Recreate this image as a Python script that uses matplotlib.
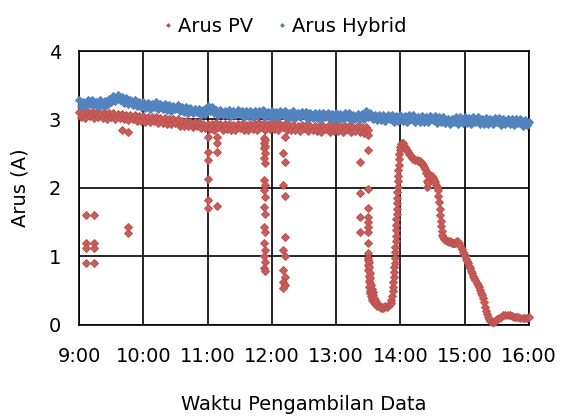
import numpy as np
import matplotlib
matplotlib.use("Agg")
import matplotlib.pyplot as plt
from matplotlib.lines import Line2D

plt.rcParams['font.family'] = ['DejaVu Sans']

# ---- axis categories -------------------------------------------------------
hour_labels = ["9:00", "10:00", "11:00", "12:00", "13:00", "14:00", "15:00", "16:00"]
hour_minutes = [0, 60, 120, 180, 240, 300, 360, 420]   # minutes after 9:00
y_ticks = [0, 1, 2, 3, 4]

# ---- Arus Hybrid: logged every 2 minutes from 9:00 to 16:00 -----------------
hybrid_minutes = np.arange(0, 421, 2)
hybrid_current = [
    3.29, 3.20, 3.26, 3.19, 3.28, 3.23, 3.29, 3.21, 3.25, 3.19,
    3.28, 3.20, 3.27, 3.21, 3.30, 3.25, 3.35, 3.27, 3.36, 3.29,
    3.33, 3.24, 3.31, 3.22, 3.29, 3.21, 3.28, 3.19, 3.26, 3.18,
    3.26, 3.17, 3.24, 3.16, 3.23, 3.18, 3.25, 3.15, 3.22, 3.16,
    3.22, 3.14, 3.21, 3.13, 3.19, 3.15, 3.21, 3.12, 3.18, 3.11,
    3.18, 3.10, 3.17, 3.09, 3.16, 3.11, 3.15, 3.07, 3.14, 3.08,
    3.19, 3.12, 3.18, 3.10, 3.14, 3.07, 3.14, 3.06, 3.13, 3.07,
    3.14, 3.05, 3.12, 3.06, 3.14, 3.08, 3.13, 3.04, 3.12, 3.05,
    3.13, 3.04, 3.12, 3.05, 3.13, 3.08, 3.14, 3.04, 3.11, 3.05,
    3.13, 3.04, 3.11, 3.03, 3.12, 3.07, 3.12, 3.02, 3.10, 3.03,
    3.12, 3.02, 3.10, 3.03, 3.11, 3.06, 3.11, 3.01, 3.09, 3.02,
    3.10, 3.02, 3.09, 3.01, 3.10, 3.04, 3.10, 3.00, 3.08, 3.01,
    3.09, 3.01, 3.08, 3.00, 3.09, 3.03, 3.09, 2.99, 3.07, 3.00,
    3.08, 3.00, 3.08, 3.01, 3.12, 3.04, 3.10, 3.00, 3.07, 2.99,
    3.07, 2.99, 3.06, 2.98, 3.07, 3.01, 3.07, 2.97, 3.05, 2.98,
    3.06, 2.98, 3.05, 2.97, 3.06, 3.00, 3.06, 2.96, 3.04, 2.97,
    3.05, 2.97, 3.04, 2.96, 3.05, 2.99, 3.05, 2.95, 3.03, 2.96,
    3.03, 2.95, 3.00, 2.93, 3.01, 2.97, 3.03, 2.94, 3.03, 2.95,
    3.03, 2.95, 3.02, 2.94, 3.03, 2.97, 3.03, 2.93, 3.01, 2.94,
    3.02, 2.94, 3.01, 2.93, 3.02, 2.96, 3.02, 2.92, 3.00, 2.93,
    3.01, 2.93, 3.00, 2.92, 3.01, 2.95, 3.01, 2.91, 2.99, 2.92,
    2.97,
]

# ---- Arus PV: regular 2-minute log, 9:00 to 13:30 ---------------------------
pv_minutes = np.arange(0, 271, 2)
pv_current = [
    3.11, 3.03, 3.10, 3.02, 3.11, 3.05, 3.11, 3.02, 3.09, 3.03,
    3.10, 3.02, 3.09, 3.01, 3.10, 3.04, 3.10, 3.01, 3.08, 3.02,
    3.08, 3.00, 3.07, 2.99, 3.07, 3.01, 3.07, 2.98, 3.05, 2.98,
    3.05, 2.97, 3.04, 2.96, 3.04, 2.98, 3.04, 2.95, 3.02, 2.95,
    3.02, 2.94, 3.01, 2.93, 3.00, 2.95, 3.00, 2.91, 2.98, 2.91,
    2.98, 2.90, 2.97, 2.89, 2.96, 2.91, 2.96, 2.87, 2.94, 2.87,
    2.94, 2.86, 2.93, 2.85, 2.95, 2.89, 2.94, 2.85, 2.93, 2.86,
    2.93, 2.85, 2.92, 2.84, 2.94, 2.88, 2.93, 2.84, 2.92, 2.85,
    2.94, 2.86, 2.93, 2.85, 2.95, 2.89, 2.94, 2.85, 2.94, 2.86,
    2.95, 2.86, 2.94, 2.85, 2.94, 2.89, 2.94, 2.85, 2.92, 2.85,
    2.92, 2.84, 2.91, 2.83, 2.92, 2.87, 2.92, 2.83, 2.91, 2.84,
    2.91, 2.83, 2.90, 2.82, 2.91, 2.86, 2.91, 2.82, 2.90, 2.83,
    2.91, 2.83, 2.90, 2.82, 2.91, 2.86, 2.91, 2.82, 2.89, 2.83,
    2.90, 2.82, 2.89, 2.81, 2.89, 2.84,
]

# ---- Arus PV: momentary drops (shading) before 13:30 ------------------------
pv_drop_minutes = [
    6.5, 6.5, 6.5, 6.5, 14, 14, 14, 14,
    40, 45.5, 46, 46,
    120.5, 120.5, 120.5, 120.5, 120.5, 120.5,
    129, 129, 129, 129,
    173, 174, 173, 174, 173, 174, 173, 174, 173, 174, 173, 174,
    173, 174, 173, 174, 173, 174, 173, 174, 173, 174,
    192.5, 190, 192.5, 190, 192.5, 192.5, 190, 192.5, 190, 192.5,
    190, 192.5, 190,
    262.5, 262.5, 262.5, 262.5,
    269.5, 269.5, 269.5, 269.5, 269.5, 269.5, 269.5, 269.5, 269.5,
    269.5, 269.5,
]
pv_drop_current = [
    1.60, 1.19, 1.12, 0.90, 1.60, 1.19, 1.12, 0.90,
    2.85, 2.82, 1.43, 1.34,
    2.74, 2.53, 2.41, 2.13, 1.82, 1.71,
    2.74, 2.66, 2.53, 1.74,
    2.73, 2.70, 2.66, 2.62, 2.58, 2.51, 2.44, 2.36, 2.12, 2.04,
    1.97, 1.87, 1.72, 1.62, 1.43, 1.36, 1.20, 1.09, 1.00, 0.92,
    0.83, 0.79,
    2.74, 2.51, 2.38, 2.04, 1.88, 1.28, 1.09, 1.00, 0.80, 0.70,
    0.63, 0.58, 0.54,
    2.38, 1.93, 1.58, 1.36,
    2.77, 2.55, 1.98, 1.71, 1.58, 1.50, 1.43, 1.36, 1.20,
    1.05, 0.98,
]

# ---- Arus PV: afternoon log (dip, recovery and sunset decline) --------------
pv_late_minutes = [
    269.5, 269.8, 270.0, 270.2, 270.4, 270.6, 270.8, 271.0, 271.2, 271.4,
    271.6, 271.8, 272.0, 272.3, 272.6, 273.0, 273.3, 273.6, 274.0, 274.4,
    274.8, 275.2, 275.6, 276.0, 276.5, 277.0, 277.5, 278.0, 279.0, 280.0,
    281.0, 282.0, 283.0, 284.0, 285.0, 286.0, 287.0, 288.0, 289.0, 290.0,
    291.0, 291.6, 292.2, 292.7,
    293.0, 293.3, 293.6, 293.9, 294.2, 294.5, 294.8, 295.0, 295.2, 295.4,
    295.6, 295.8, 296.0, 296.2, 296.4, 296.6, 296.8, 297.0, 297.2, 297.4,
    297.6, 297.8, 298.0, 298.3, 298.6, 299.0, 299.5, 300.0, 300.6, 301.3,
    302, 303, 304, 305, 306, 307, 308, 309, 310, 311,
    312, 313, 314, 315, 316, 317, 318, 319, 320, 321,
    322, 323, 324, 324.5, 325, 325.5, 326, 327, 328, 329,
    330, 331, 332, 333, 334, 335, 335.5, 336, 336.5, 337,
    337.5, 338, 338.5, 339, 340, 341, 342, 343, 344, 345,
    346, 347, 348, 349, 350, 351, 352, 353, 354, 355,
    356, 357, 358, 359, 360, 361, 362, 363, 364, 365,
    366, 367, 368, 369, 370, 371, 372, 373, 374, 375,
    376, 377, 378, 379, 380, 381, 382, 383, 384, 385,
    386, 387, 388, 389, 390, 392, 394, 396, 398, 400,
    402, 404, 406, 408, 410, 412, 414, 416, 418, 420,
]
pv_late_current = [
    0.95, 0.88, 0.80, 0.72, 0.92, 0.64, 0.84, 0.56, 0.76, 0.50,
    0.68, 0.46, 0.62, 0.42, 0.58, 0.40, 0.53, 0.37, 0.48, 0.35,
    0.44, 0.33, 0.40, 0.31, 0.37, 0.30, 0.34, 0.28, 0.30, 0.27,
    0.26, 0.25, 0.26, 0.25, 0.26, 0.27, 0.26, 0.28, 0.29, 0.30,
    0.32, 0.36, 0.42, 0.50,
    0.56, 0.63, 0.70, 0.77, 0.84, 0.91, 0.98, 1.06, 1.14, 1.22,
    1.30, 1.38, 1.46, 1.54, 1.62, 1.70, 1.78, 1.86, 1.94, 2.02,
    2.10, 2.18, 2.26, 2.34, 2.42, 2.49, 2.55, 2.60, 2.64, 2.66,
    2.65, 2.62, 2.60, 2.57, 2.55, 2.52, 2.50, 2.48, 2.46, 2.44,
    2.43, 2.42, 2.41, 2.41, 2.40, 2.39, 2.39, 2.37, 2.36, 2.34,
    2.31, 2.27, 2.22, 2.10, 2.02, 2.08, 2.18, 2.20, 2.19, 2.17,
    2.15, 2.12, 2.09, 2.05, 2.01, 1.97, 1.88, 1.79, 1.70, 1.61,
    1.52, 1.44, 1.37, 1.32, 1.28, 1.25, 1.24, 1.23, 1.22, 1.21,
    1.22, 1.21, 1.20, 1.20, 1.19, 1.20, 1.21, 1.22, 1.21, 1.19,
    1.15, 1.11, 1.07, 1.03, 1.00, 0.97, 0.93, 0.90, 0.86, 0.83,
    0.79, 0.76, 0.72, 0.69, 0.65, 0.62, 0.58, 0.55, 0.51, 0.47,
    0.44, 0.40, 0.33, 0.26, 0.20, 0.16, 0.12, 0.08, 0.06, 0.05,
    0.04, 0.05, 0.06, 0.07, 0.08, 0.10, 0.12, 0.14, 0.15, 0.15,
    0.14, 0.13, 0.12, 0.11, 0.11, 0.10, 0.10, 0.10, 0.10, 0.11,
]

PV_COLOR = "#C0504D"
HYBRID_COLOR = "#4F81BD"

pv_x = np.concatenate([pv_minutes, pv_drop_minutes, pv_late_minutes])
pv_y = np.concatenate([pv_current, pv_drop_current, pv_late_current])

fig = plt.figure(figsize=(5.62, 4.16), dpi=100)
ax = fig.add_axes([0.1406, 0.2188, 0.8007, 0.6586])

marker_kw = dict(linestyle="none", marker="D", markersize=4.1, markeredgewidth=0.7,
                 clip_on=False)
ax.plot(pv_x, pv_y, markerfacecolor="#C85E5C", markeredgecolor=PV_COLOR,
        label="Arus PV", zorder=3, **marker_kw)
ax.plot(hybrid_minutes, hybrid_current, markerfacecolor="#5585C0",
        markeredgecolor=HYBRID_COLOR, label="Arus Hybrid", zorder=4, **marker_kw)

ax.set_xlim(0, 420)
ax.set_ylim(0, 4)
ax.set_xticks(hour_minutes)
ax.set_xticklabels(hour_labels)
ax.set_yticks(y_ticks)
ax.tick_params(axis="both", length=0, labelsize=14, colors="black")
ax.tick_params(axis="x", pad=16)
ax.tick_params(axis="y", pad=13)

ax.set_axisbelow(True)
ax.grid(True, color="black", linewidth=1.2)
for spine in ax.spines.values():
    spine.set_color("black")
    spine.set_linewidth(1.2)

ax.set_xlabel("Waktu Pengambilan Data", fontsize=14)
ax.xaxis.set_label_coords(0.5, -0.255)
ax.set_ylabel("Arus (A)", fontsize=14)
ax.yaxis.set_label_coords(-0.11, 0.5)

handles = [
    Line2D([], [], linestyle="none", marker="D", markersize=2.5,
           color=PV_COLOR, markeredgewidth=0),
    Line2D([], [], linestyle="none", marker="D", markersize=2.5,
           color=HYBRID_COLOR, markeredgewidth=0),
]
fig.legend(handles, ["Arus PV", "Arus Hybrid"], loc="center",
           bbox_to_anchor=(0.507, 0.9375), ncol=2, frameon=False, fontsize=14,
           handlelength=0.5, handletextpad=0.3, columnspacing=1.2)

fig.savefig("out.png", dpi=100)
